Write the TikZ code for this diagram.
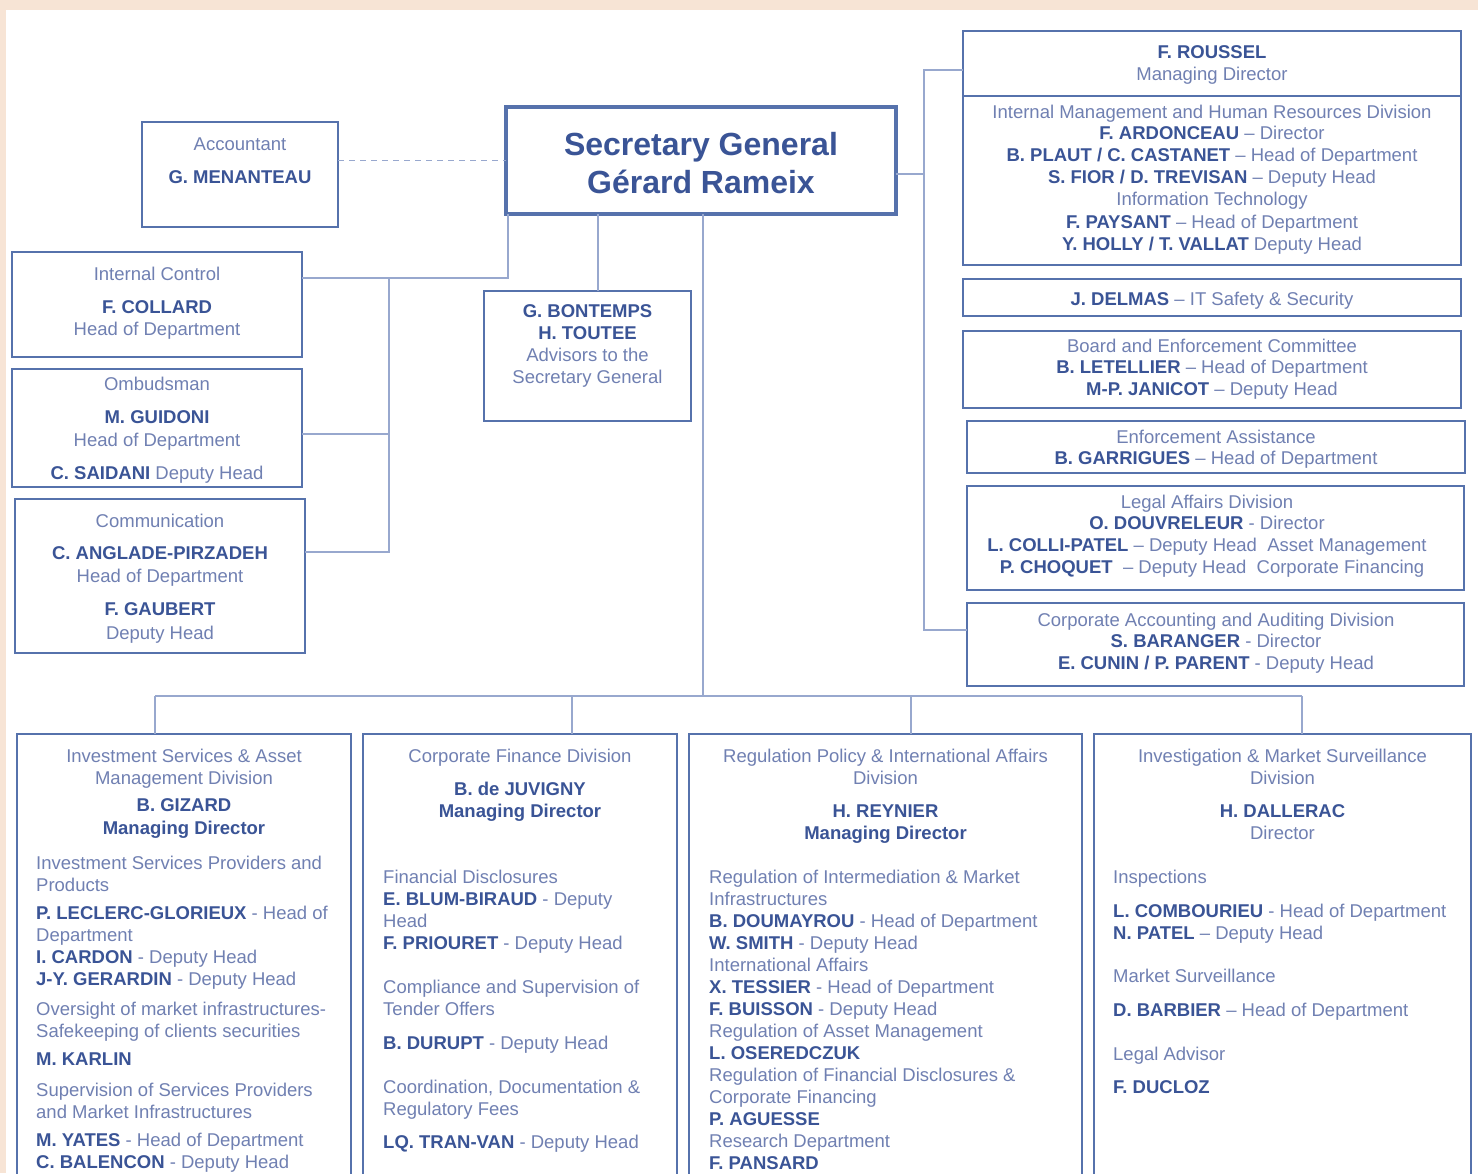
\documentclass[tikz,border=0pt]{standalone}
\usepackage{fontspec}
\setmainfont{Liberation Sans}
\definecolor{peach}{RGB}{247,228,213}
\definecolor{boxc}{RGB}{86,114,172}
\definecolor{connc}{RGB}{152,168,206}
\definecolor{txtc}{RGB}{112,128,178}
\definecolor{namec}{RGB}{58,84,150}
\newcommand\Nm[1]{{\bfseries\color{namec}#1}}
\tikzset{
  box/.style={draw=boxc, line width=2.5pt, fill=white, inner sep=0pt, outer sep=0pt},
  conn/.style={draw=connc, line width=1.8pt},
  tl/.style={font=\fontsize{18.5}{22}\selectfont, text=txtc, inner sep=0pt, anchor=base},
  tw/.style={tl, anchor=base west},
  ttl/.style={font=\fontsize{32}{38}\selectfont\bfseries, text=namec, inner sep=0pt, anchor=base},
}
\begin{document}
\begin{tikzpicture}[x=1pt,y=-1pt]
\clip (0,0) rectangle (1478,1173);
\fill[peach] (0,0) rectangle (1478,1173);
\fill[white] (6,10) rectangle (1478,1173);

% ---------- boxes ----------
\node[box, minimum width=196, minimum height=105] (acc) at (240,174.5) {};
\node[box, line width=4.5pt, minimum width=390, minimum height=107] (sg) at (701,160.5) {};
\node[box, minimum width=498, minimum height=234] (rou) at (1212,148) {};
\node[box, minimum width=498, minimum height=37] (del) at (1212,297.5) {};
\node[box, minimum width=498, minimum height=77] (brd) at (1212,369.5) {};
\node[box, minimum width=498, minimum height=52] (enf) at (1216,447) {};
\node[box, minimum width=497, minimum height=104] (leg) at (1215.5,538) {};
\node[box, minimum width=497, minimum height=83] (cad) at (1215.5,644.5) {};
\node[box, minimum width=290, minimum height=105] (ic) at (157,304.5) {};
\node[box, minimum width=290, minimum height=118] (omb) at (157,428) {};
\node[box, minimum width=290, minimum height=154] (com) at (160,576) {};
\node[box, minimum width=207, minimum height=130] (bon) at (587.5,356) {};
\node[box, minimum width=334, minimum height=466] (b1) at (184,967) {};
\node[box, minimum width=314, minimum height=466] (b2) at (520,967) {};
\node[box, minimum width=393, minimum height=466] (b3) at (885.5,967) {};
\node[box, minimum width=377, minimum height=466] (b4) at (1282.5,967) {};
\draw[draw=boxc, line width=2.5pt] (rou.west |- 0,96) -- (rou.east |- 0,96);

% ---------- connectors ----------
\draw[conn, dashed, dash pattern=on 6pt off 5pt] (acc.east |- sg.west) -- (sg.west);
\coordinate (jic) at (508,278);
\coordinate (jv1) at (389,278);
\coordinate (jv2) at (389,552);
\draw[conn] (508,0 |- sg.south) -- (jic) -- (ic.east |- jic);
\draw[conn] (jv1) -- (jv2) -- (com.east |- jv2);
\draw[conn] (omb.east |- 0,434) -- (389,434);
\draw[conn] (598,0 |- sg.south) -- (598,0 |- bon.north);
\coordinate (trunk) at (703,696);
\coordinate (hl) at (155,696);
\coordinate (hr) at (1302,696);
\draw[conn] (703,0 |- sg.south) -- (trunk);
\draw[conn] (hl) -- (hr);
\draw[conn] (hl) -- (hl |- b1.north);
\draw[conn] (572,696) -- (572,0 |- b2.north);
\draw[conn] (911,696) -- (911,0 |- b3.north);
\draw[conn] (hr) -- (hr |- b4.north);
\coordinate (rt) at (924,70);
\coordinate (rb) at (924,630);
\draw[conn] (sg.east |- 0,174) -- (924,174);
\draw[conn] (rou.west |- rt) -- (rt) -- (rb) -- (cad.west |- rb);

% ---------- texts ----------
\node[ttl] (sgt1) at (701,155) {Secretary General};
\node[ttl] (sgt2) at (701,193) {Gérard Rameix};

\node[tl] (acct1) at (240,150) {Accountant};
\node[tl] (acct2) at (240,183) {\Nm{G. MENANTEAU}};

\foreach \s/\p [count=\i] in {
  52/{\Nm{F. ROUSSEL}},
  74/{Managing Director},
  112/{Internal Management and Human Resources Division},
  133/{\Nm{F. ARDONCEAU} – Director},
  155/{\Nm{B. PLAUT / C. CASTANET} – Head of Department},
  177/{\Nm{S. FIOR / D. TREVISAN} – Deputy Head},
  199/{Information Technology},
  222/{\Nm{F. PAYSANT} – Head of Department},
  244/{\Nm{Y. HOLLY / T. VALLAT} Deputy Head}}
  \node[tl, name=rt\i] at (1212,\s+6) {\p};

\node[tl] (delt) at (1212,305) {\Nm{J. DELMAS} – IT Safety \& Security};

\foreach \s/\p [count=\i] in {
  346/{Board and Enforcement Committee},
  367/{\Nm{B. LETELLIER} – Head of Department},
  389/{\Nm{M-P. JANICOT} – Deputy Head}}
  \node[tl, name=bt\i] at (1212,\s+6) {\p};

\foreach \s/\p [count=\i] in {
  437/{Enforcement Assistance},
  458/{\Nm{B. GARRIGUES} – Head of Department}}
  \node[tl, name=et\i] at (1216,\s+6) {\p};

\foreach \s/\p [count=\i] in {
  502/{Legal Affairs Division},
  523/{\Nm{O. DOUVRELEUR} - Director},
  545/{\Nm{L. COLLI-PATEL} – Deputy Head\ \ Asset Management},
  567/{\ \ \Nm{P. CHOQUET}\ \ – Deputy Head\ \ Corporate Financing}}
  \node[tl, name=lt\i] at (1207,\s+6) {\p};

\foreach \s/\p [count=\i] in {
  620/{Corporate Accounting and Auditing Division},
  641/{\Nm{S. BARANGER} - Director},
  663/{\Nm{E. CUNIN / P. PARENT} - Deputy Head}}
  \node[tl, name=ct\i] at (1216,\s+6) {\p};

\foreach \s/\p [count=\i] in {
  274/{Internal Control},
  307/{\Nm{F. COLLARD}},
  329/{Head of Department}}
  \node[tl, name=it\i] at (157,\s+6) {\p};

\foreach \s/\p [count=\i] in {
  384/{Ombudsman},
  417/{\Nm{M. GUIDONI}},
  440/{Head of Department},
  473/{\Nm{C. SAIDANI} Deputy Head}}
  \node[tl, name=ot\i] at (157,\s+6) {\p};

\foreach \s/\p [count=\i] in {
  521/{Communication},
  553/{\Nm{C. ANGLADE-PIRZADEH}},
  576/{Head of Department},
  609/{\Nm{F. GAUBERT}},
  633/{Deputy Head}}
  \node[tl, name=mt\i] at (160,\s+6) {\p};

\foreach \s/\p [count=\i] in {
  311/{\Nm{G. BONTEMPS}},
  333/{\Nm{H. TOUTEE}},
  355/{Advisors to the},
  377/{Secretary General}}
  \node[tl, name=gt\i] at (587.5,\s+6) {\p};

% bottom box 1
\foreach \s/\p [count=\i] in {
  756/{Investment Services \& Asset},
  778/{Management Division},
  805/{\Nm{B. GIZARD}},
  828/{\Nm{Managing Director}}}
  \node[tl, name=ah\i] at (184,\s+6) {\p};
\foreach \s/\p [count=\i] in {
  863/{Investment Services Providers and},
  885/{Products},
  913/{\Nm{P. LECLERC-GLORIEUX} - Head of},
  935/{Department},
  957/{\Nm{I. CARDON} - Deputy Head},
  979/{\Nm{J-Y. GERARDIN} - Deputy Head},
  1009/{Oversight of market infrastructures-},
  1031/{Safekeeping of clients securities},
  1059/{\Nm{M. KARLIN}},
  1090/{Supervision of Services Providers},
  1112/{and Market Infrastructures},
  1140/{\Nm{M. YATES} - Head of Department},
  1162/{\Nm{C. BALENCON} - Deputy Head}}
  \node[tw, name=al\i] at (36,\s+6) {\p};

% bottom box 2
\foreach \s/\p [count=\i] in {
  756/{Corporate Finance Division},
  789/{\Nm{B. de JUVIGNY}},
  811/{\Nm{Managing Director}}}
  \node[tl, name=bh\i] at (520,\s+6) {\p};
\foreach \s/\p [count=\i] in {
  877/{Financial Disclosures},
  899/{\Nm{E. BLUM-BIRAUD} - Deputy},
  921/{Head},
  943/{\Nm{F. PRIOURET} - Deputy Head},
  987/{Compliance and Supervision of},
  1009/{Tender Offers},
  1043/{\Nm{B. DURUPT} - Deputy Head},
  1087/{{Coordination, Documentation \&}},
  1109/{Regulatory Fees},
  1142/{\Nm{LQ. TRAN-VAN} - Deputy Head}}
  \node[tw, name=bl\i] at (383,\s+6) {\p};

% bottom box 3
\foreach \s/\p [count=\i] in {
  756/{Regulation Policy \& International Affairs},
  778/{Division},
  811/{\Nm{H. REYNIER}},
  833/{\Nm{Managing Director}}}
  \node[tl, name=ch\i] at (885.5,\s+6) {\p};
\foreach \s/\p [count=\i] in {
  877/{Regulation of Intermediation \& Market},
  899/{Infrastructures},
  921/{\Nm{B. DOUMAYROU} - Head of Department},
  943/{\Nm{W. SMITH} - Deputy Head},
  965/{International Affairs},
  987/{\Nm{X. TESSIER} - Head of Department},
  1009/{\Nm{F. BUISSON} - Deputy Head},
  1031/{Regulation of Asset Management},
  1053/{\Nm{L. OSEREDCZUK}},
  1075/{Regulation of Financial Disclosures \&},
  1097/{Corporate Financing},
  1119/{\Nm{P. AGUESSE}},
  1141/{Research Department},
  1163/{\Nm{F. PANSARD}}}
  \node[tw, name=cl\i] at (709,\s+6) {\p};

% bottom box 4
\foreach \s/\p [count=\i] in {
  756/{Investigation \& Market Surveillance},
  778/{Division},
  811/{\Nm{H. DALLERAC}},
  833/{Director}}
  \node[tl, name=dh\i] at (1282.5,\s+6) {\p};
\foreach \s/\p [count=\i] in {
  877/{Inspections},
  911/{\Nm{L. COMBOURIEU} - Head of Department},
  933/{\Nm{N. PATEL} – Deputy Head},
  976/{Market Surveillance},
  1010/{\Nm{D. BARBIER} – Head of Department},
  1054/{Legal Advisor},
  1087/{\Nm{F. DUCLOZ}}}
  \node[tw, name=dl\i] at (1113,\s+6) {\p};
\end{tikzpicture}
\end{document}
